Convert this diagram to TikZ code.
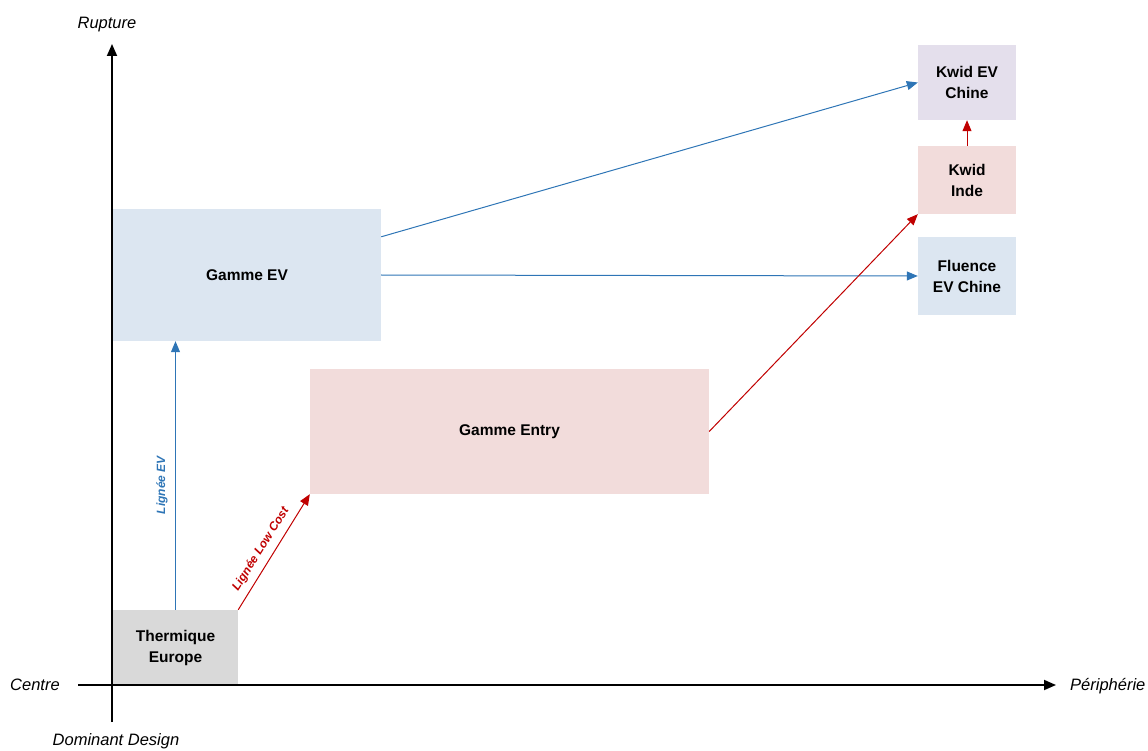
\documentclass[tikz,border=0pt]{standalone}
\usepackage{fontspec}
\setmainfont{Liberation Sans}
\usetikzlibrary{arrows.meta}
\definecolor{boxgray}{HTML}{D9D9D9}
\definecolor{boxblue}{HTML}{DCE6F1}
\definecolor{boxpink}{HTML}{F2DCDB}
\definecolor{boxlav}{HTML}{E4DFEC}
\definecolor{arrblue}{HTML}{2E75B6}
\definecolor{arrred}{HTML}{C00000}
\begin{document}
\begin{tikzpicture}[x=1pt,y=-1pt,
  box/.style={rectangle,inner sep=0pt,align=center,font=\fontsize{15.5}{21}\selectfont\bfseries},
  axislbl/.style={inner sep=0pt,font=\fontsize{16.5}{20}\selectfont\itshape},
  axis/.style={line width=1.8pt,-{Triangle[length=12pt,width=10pt]}},
  bluearr/.style={draw=arrblue,line width=1pt,-{Triangle[length=11pt,width=9pt]}},
  redarr/.style={draw=arrred,line width=1pt,-{Triangle[length=11pt,width=9pt]}},
  linelbl/.style={inner sep=0pt,font=\fontsize{12}{14}\selectfont\bfseries\itshape}]
\useasboundingbox (0,0) rectangle (1148,751);
% boxes
\node[box,fill=boxgray,minimum width=125pt,minimum height=75pt] (therm) at (175.5,647.5) {Thermique\\Europe};
\node[box,fill=boxblue,minimum width=268pt,minimum height=132pt] (gev) at (247,275) {Gamme EV};
\node[box,fill=boxpink,minimum width=399pt,minimum height=125pt] (entry) at (509.5,431.5) {Gamme Entry};
\node[box,fill=boxlav,minimum width=98pt,minimum height=75pt] (kwidev) at (967,82.5) {Kwid EV\\Chine};
\node[box,fill=boxpink,minimum width=98pt,minimum height=68pt] (kwidin) at (967,180) {Kwid\\Inde};
\node[box,fill=boxblue,minimum width=98pt,minimum height=78pt] (flu) at (967,276) {Fluence\\EV Chine};
% axes
\coordinate (ybot) at (112,722);
\coordinate (ytop) at (112,44);
\coordinate (xleft) at (78,685);
\coordinate (xright) at (1056,685);
\draw[axis] (ybot) -- (ytop);
\draw[axis] (xleft) -- (xright);
\node[axislbl] (rup) at (107,25) {Rupture};
\node[axislbl,anchor=west] (cen) at (10,685) {Centre};
\node[axislbl,anchor=west] (per) at (1070,686) {Périphérie};
\node[axislbl] (dom) at (116,741) {Dominant Design};
% connectors
\draw[bluearr] (therm.north) -- (therm.north |- gev.south);
\draw[redarr] (therm.north east) -- (entry.south west);
\draw[bluearr] ([yshift=-28pt]gev.north east) -- (kwidev.west);
\draw[bluearr] (gev.east) -- (flu.west);
\draw[redarr] (entry.east) -- (kwidin.south west);
\draw[redarr] (kwidin.north) -- (kwidev.south);
% line labels
\node[linelbl,text=arrblue,rotate=90] (lev) at (162,485) {Lignée EV};
\node[linelbl,text=arrred,rotate=58] (llc) at (261,549) {Lignée Low Cost};
\end{tikzpicture}
\end{document}
